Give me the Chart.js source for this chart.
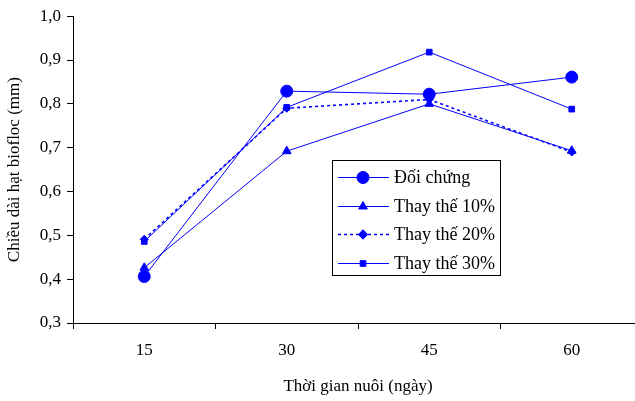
<!DOCTYPE html>
<html>
<head>
<meta charset="utf-8">
<script src="https://cdn.jsdelivr.net/npm/chart.js@4.4.1/dist/chart.umd.min.js"></script>
<style>
  html, body { margin: 0; padding: 0; background: #fff; overflow: hidden; }
  #wrap { width: 650px; height: 401px; }
</style>
</head>
<body>
<div id="wrap"><canvas id="grafico"></canvas></div>
<script>
// Datos
const ngay = ['15', '30', '45', '60'];
const doiChung = [0.406, 0.829, 0.822, 0.861];
const thayThe10 = [0.426, 0.692, 0.800, 0.693];
const thayThe20 = [0.491, 0.790, 0.810, 0.690];
const thayThe30 = [0.486, 0.792, 0.918, 0.788];
const yTicks = [0.3, 0.4, 0.5, 0.6, 0.7, 0.8, 0.9, 1.0];

const fuente = '"Liberation Serif", "Times New Roman", serif';
const azul = '#0000FF';

// Leyenda dibujada dentro del área del gráfico, con borde
const leyendaPlugin = {
    id: 'leyenda',
    afterDraw(chart) {
        const ctx = chart.ctx;
        const x0 = 332, y0 = 160, w = 168, h = 115;
        ctx.save();
        ctx.fillStyle = '#fff';
        ctx.fillRect(x0, y0, w, h);
        ctx.strokeStyle = '#000';
        ctx.lineWidth = 1;
        ctx.strokeRect(x0 + 0.5, y0 + 0.5, w, h);
        chart.data.datasets.forEach((ds, i) => {
            const y = Math.round(y0 + 17 + i * 28.5) + 0.5;
            ctx.strokeStyle = azul;
            ctx.lineWidth = ds.borderWidth;
            ctx.setLineDash(ds.borderDash || []);
            ctx.beginPath();
            ctx.moveTo(x0 + 6, y);
            ctx.lineTo(x0 + 57, y);
            ctx.stroke();
            ctx.setLineDash([]);
            ctx.fillStyle = azul;
            ctx.strokeStyle = azul;
            Chart.helpers.drawPoint(ctx, {
                pointStyle: ds.pointStyle,
                radius: ds.pointRadius,
                rotation: 0,
                borderWidth: 1
            }, x0 + 31, y);
            ctx.fillStyle = '#000';
            ctx.font = '18px ' + fuente;
            ctx.textBaseline = 'middle';
            ctx.textAlign = 'left';
            ctx.fillText(ds.label, x0 + 62, y + 1);
        });
        ctx.restore();
    }
};

function serie(label, data, estilo, radio, guiones) {
    return {
        label: label,
        data: data,
        borderColor: azul,
        backgroundColor: azul,
        borderWidth: guiones ? 1.6 : 1,
        borderDash: guiones || [],
        pointStyle: estilo,
        pointRadius: radio,
        pointBorderWidth: 1,
        pointBackgroundColor: azul,
        pointBorderColor: azul,
        tension: 0,
        fill: false
    };
}

const ctx = document.getElementById('grafico').getContext('2d');
new Chart(ctx, {
    type: 'line',
    data: {
        labels: ngay,
        datasets: [
            serie('Đối chứng', doiChung, 'circle', 6),
            serie('Thay thế 10%', thayThe10, 'triangle', 5),
            serie('Thay thế 20%', thayThe20, 'rectRot', 4, [3, 3]),
            serie('Thay thế 30%', thayThe30, 'rect', 4)
        ]
    },
    options: {
        responsive: true,
        maintainAspectRatio: false,
        animation: false,
        layout: { padding: { top: 16, right: 7, left: 0, bottom: 0 } },
        plugins: {
            legend: { display: false },
            tooltip: { enabled: false }
        },
        scales: {
            x: {
                type: 'category',
                offset: true,
                grid: {
                    offset: true,
                    drawOnChartArea: false,
                    tickLength: 6,
                    color: '#000'
                },
                border: { color: '#000', width: 1 },
                ticks: {
                    color: '#000',
                    font: { family: fuente, size: 17 },
                    padding: 11,
                    maxRotation: 0
                },
                title: {
                    display: true,
                    text: 'Thời gian nuôi (ngày)',
                    color: '#000',
                    font: { family: fuente, size: 17 },
                    padding: { top: 12 }
                },
                afterFit(scale) { scale.height = 78; }
            },
            y: {
                min: 0.3,
                max: 1.0,
                afterBuildTicks(scale) {
                    scale.ticks = yTicks.map(v => ({ value: v }));
                },
                grid: {
                    drawOnChartArea: false,
                    tickLength: 6,
                    color: '#000'
                },
                border: { color: '#000', width: 1 },
                ticks: {
                    color: '#000',
                    font: { family: fuente, size: 17 },
                    padding: 6,
                    callback: v => Number(v).toFixed(1).replace('.', ',')
                },
                title: {
                    display: true,
                    text: 'Chiều dài hạt biofloc (mm)',
                    color: '#000',
                    font: { family: fuente, size: 17 },
                    padding: { top: 4, bottom: 4 }
                },
                afterFit(scale) { scale.width = 73; }
            }
        }
    },
    plugins: [leyendaPlugin]
});
</script>
</body>
</html>
